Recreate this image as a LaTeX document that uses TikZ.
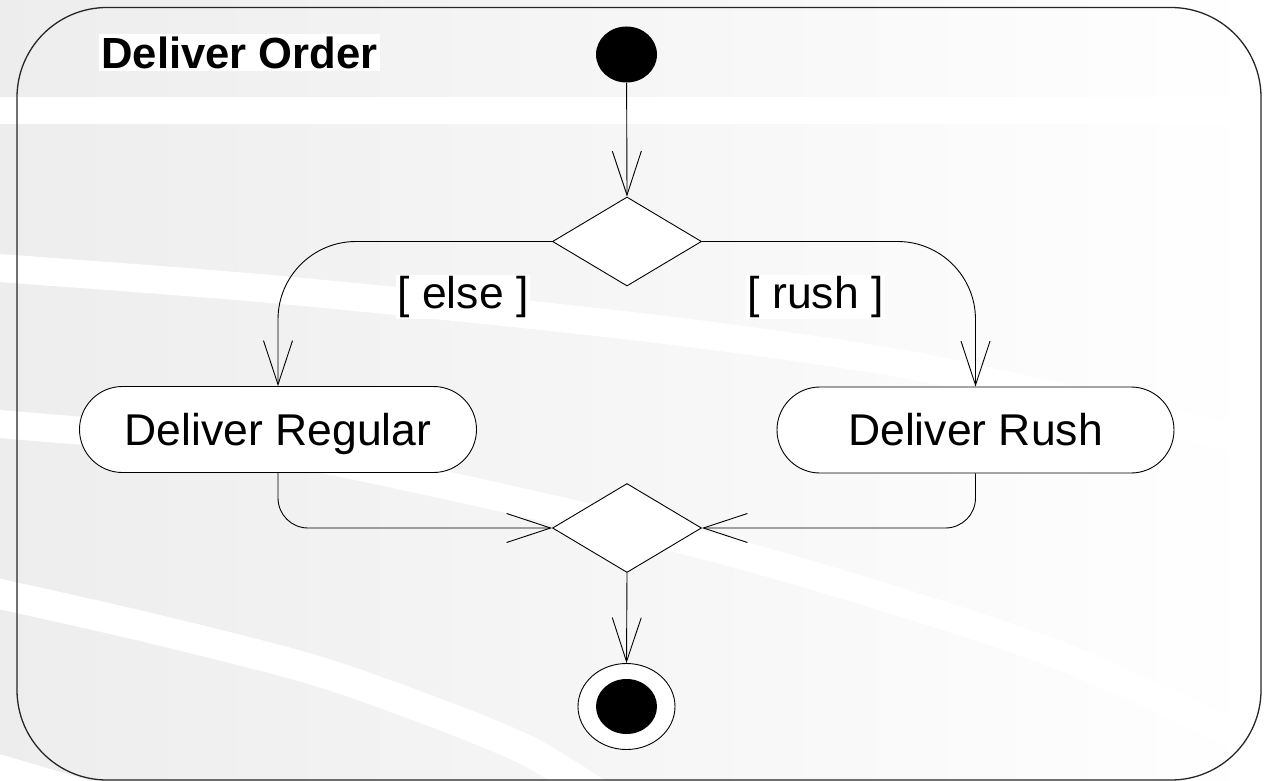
\documentclass[tikz,border=0pt]{standalone}
\usepackage{fontspec}
\setmainfont{Liberation Sans}
\usetikzlibrary{shapes.geometric,arrows.meta}
\begin{document}
\begin{tikzpicture}[x=1pt,y=-1pt,
  txt/.style={font=\fontsize{44.5}{50}\selectfont},
  actbox/.style={draw, line width=0.9pt, fill=white, rounded corners=43pt,
    minimum width=397pt, minimum height=86pt, inner sep=0pt, txt,
    text height=31.9pt, text depth=0pt},
  decide/.style={draw, line width=0.9pt, fill=white, diamond, inner sep=0pt,
    minimum width=149pt, minimum height=89pt},
  guard/.style={fill=white, inner sep=1.5pt, txt},
  flow/.style={draw, line width=0.9pt, -{Straight Barb[length=44pt,width=29pt,line width=0.9pt]}},
  band/.style={white, line width=28pt}
]
\useasboundingbox (0,0) rectangle (1264,781);
% background
\shade[left color=black!7, right color=white] (0,0) rectangle (1264,781);
\begin{scope}
\clip (0,0) rectangle (1264,781);
\draw[band, line width=27pt] (-10,110.5) -- (1274,110.5);
\draw[band] plot[smooth] coordinates {(-20,266) (0,268) (282,290) (632,326) (880,360) (1050,395) (1264,445) (1290,452)};
\draw[band] plot[smooth] coordinates {(-20,422) (0,424) (250,447) (440,484) (703,545) (900,602) (1071,660) (1264,748) (1290,762)};
\draw[band, line width=30pt] plot[smooth] coordinates {(-20,590) (0,594) (150,628) (314,670) (444,716) (530,752) (600,795)};
\draw[band, line width=30pt] (-20,764) -- (120,805);
\end{scope}
% frame
\draw[line width=1.3pt, black!85, rounded corners=90pt] (17,7.5) rectangle (1261,780);
\node[fill=white, inner sep=2pt, font=\fontsize{43.6}{50}\selectfont\bfseries] (title) at (239.5,52.5) {Deliver Order};
% nodes
\node[ellipse, fill=black, minimum width=61pt, minimum height=56pt, inner sep=0pt] (init) at (626.5,54.5) {};
\node[decide] (d1) at (627,241.5) {};
\node[actbox] (reg) at (278,429.5) {Deliver Regular};
\node[actbox] (rush) at (975.5,430) {Deliver Rush};
\node[decide] (d2) at (627,528) {};
\node[ellipse, draw, line width=0.9pt, fill=white, minimum width=97pt, minimum height=86pt, inner sep=0pt] (final) at (626.5,706.5) {};
\node[ellipse, fill=black, minimum width=61pt, minimum height=55pt, inner sep=0pt] (finaldot) at (final.center) {};
% connectors
\draw[flow] (init) -- (d1.north);
\draw[flow, rounded corners=78pt] (d1.west) -| (reg.north);
\draw[flow, rounded corners=78pt] (d1.east) -| (rush.north);
\draw[flow, rounded corners=30pt] (reg.south) |- (d2.west);
\draw[flow, rounded corners=30pt] (rush.south) |- (d2.east);
\draw[flow] (d2.south) -- (final.north);
% guards
\node[guard] (gelse) at (463,297) {[ else ]};
\node[guard] (grush) at (815.5,297) {[ rush ]};
\end{tikzpicture}
\end{document}
